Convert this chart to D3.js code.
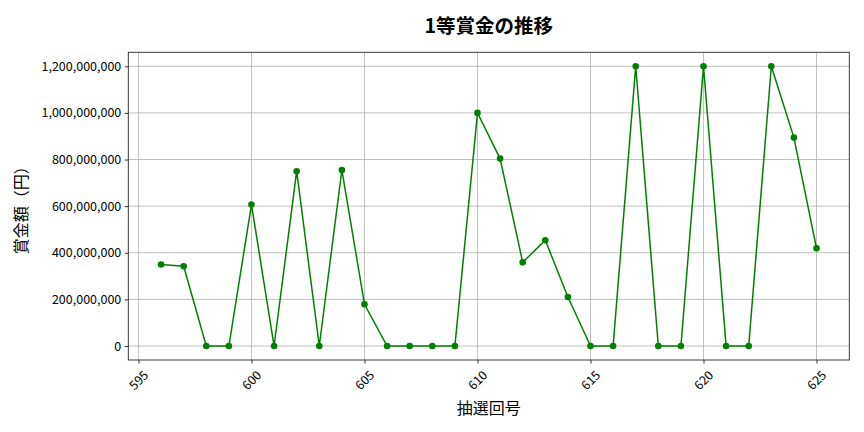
<!DOCTYPE html>
<html>
<head>
<meta charset="utf-8">
<script src="https://d3js.org/d3.v7.min.js"></script>
<style>
  body { margin: 0; background: #fff; }
  text { font-family: "Noto Sans CJK JP", "Noto Sans", sans-serif; fill: #000; }
</style>
</head>
<body>
<div class="vis"></div>
<script>
  // draw numbers and 1st prize amounts (yen)
  const rounds = [596, 597, 598, 599, 600, 601, 602, 603, 604, 605,
                  606, 607, 608, 609, 610, 611, 612, 613, 614, 615,
                  616, 617, 618, 619, 620, 621, 622, 623, 624, 625];
  const prizes = [350000000, 342000000, 0, 0, 607000000, 0, 750000000, 0, 755000000, 179000000,
                  0, 0, 0, 0, 1000000000, 804000000, 359000000, 454000000, 210000000, 0,
                  0, 1200000000, 0, 0, 1200000000, 0, 0, 1200000000, 894000000, 419000000];
  const xTicks = [595, 600, 605, 610, 615, 620, 625];
  const yTicks = [0, 200000000, 400000000, 600000000, 800000000, 1000000000, 1200000000];

  const width = 864, height = 432;
  const margin = {top: 52.3, right: 14.7, bottom: 72, left: 128.3};
  const data = rounds.map((r, i) => ({x: r, y: prizes[i]}));

  const svg = d3.select('.vis').append('svg')
    .attr('width', width)
    .attr('height', height);

  const x = d3.scaleLinear()
    .domain([596 - 1.45, 625 + 1.45])
    .range([margin.left, width - margin.right]);
  const y = d3.scaleLinear()
    .domain([-60000000, 1260000000])
    .range([height - margin.bottom, margin.top]);

  // grid
  svg.append('g')
    .selectAll('line')
    .data(xTicks)
    .join('line')
      .attr('x1', d => x(d)).attr('x2', d => x(d))
      .attr('y1', margin.top).attr('y2', height - margin.bottom)
      .attr('stroke', '#b0b0b0').attr('stroke-width', 0.8);
  svg.append('g')
    .selectAll('line')
    .data(yTicks)
    .join('line')
      .attr('x1', margin.left).attr('x2', width - margin.right)
      .attr('y1', d => y(d)).attr('y2', d => y(d))
      .attr('stroke', '#b0b0b0').attr('stroke-width', 0.8);

  // axes
  const fmt = d3.format(',');
  const xAxis = svg.append('g')
    .attr('transform', `translate(0,${height - margin.bottom})`)
    .call(d3.axisBottom(x).tickValues(xTicks).tickSize(3.5).tickSizeOuter(0));
  xAxis.select('.domain').remove();
  xAxis.selectAll('text')
    .attr('font-size', 12.5)
    .attr('text-anchor', 'middle')
    .attr('y', 0)
    .attr('dy', null)
    .attr('dominant-baseline', 'central')
    .attr('transform', 'translate(-1,19.5) rotate(-45)');

  const yAxis = svg.append('g')
    .attr('transform', `translate(${margin.left},0)`)
    .call(d3.axisLeft(y).tickValues(yTicks).tickFormat(fmt).tickSize(3.5).tickPadding(3.5));
  yAxis.select('.domain').remove();
  yAxis.selectAll('text').attr('font-size', 12.5);
  svg.selectAll('.tick line').attr('stroke', '#000').attr('stroke-width', 0.8);

  // frame
  svg.append('rect')
    .attr('x', margin.left).attr('y', margin.top)
    .attr('width', width - margin.left - margin.right)
    .attr('height', height - margin.top - margin.bottom)
    .attr('fill', 'none').attr('stroke', '#262626').attr('stroke-width', 0.9);

  // line and markers
  svg.append('path')
    .datum(data)
    .attr('fill', 'none')
    .attr('stroke', 'green')
    .attr('stroke-width', 1.5)
    .attr('d', d3.line().x(d => x(d.x)).y(d => y(d.y)));
  svg.append('g')
    .selectAll('circle')
    .data(data)
    .join('circle')
      .attr('cx', d => x(d.x))
      .attr('cy', d => y(d.y))
      .attr('r', 3.3)
      .attr('fill', 'green');

  // labels
  const cx = (margin.left + width - margin.right) / 2;
  svg.append('text')
    .attr('x', cx).attr('y', 32.5)
    .attr('text-anchor', 'middle')
    .attr('font-size', 19.5).attr('font-weight', 'bold')
    .text('1等賞金の推移');
  svg.append('text')
    .attr('x', cx).attr('y', 414)
    .attr('text-anchor', 'middle')
    .attr('font-size', 16)
    .text('抽選回号');
  svg.append('text')
    .attr('transform', `translate(27,${(margin.top + height - margin.bottom) / 2}) rotate(-90)`)
    .attr('text-anchor', 'middle')
    .attr('font-size', 16)
    .text('賞金額（円）');
</script>
</body>
</html>
